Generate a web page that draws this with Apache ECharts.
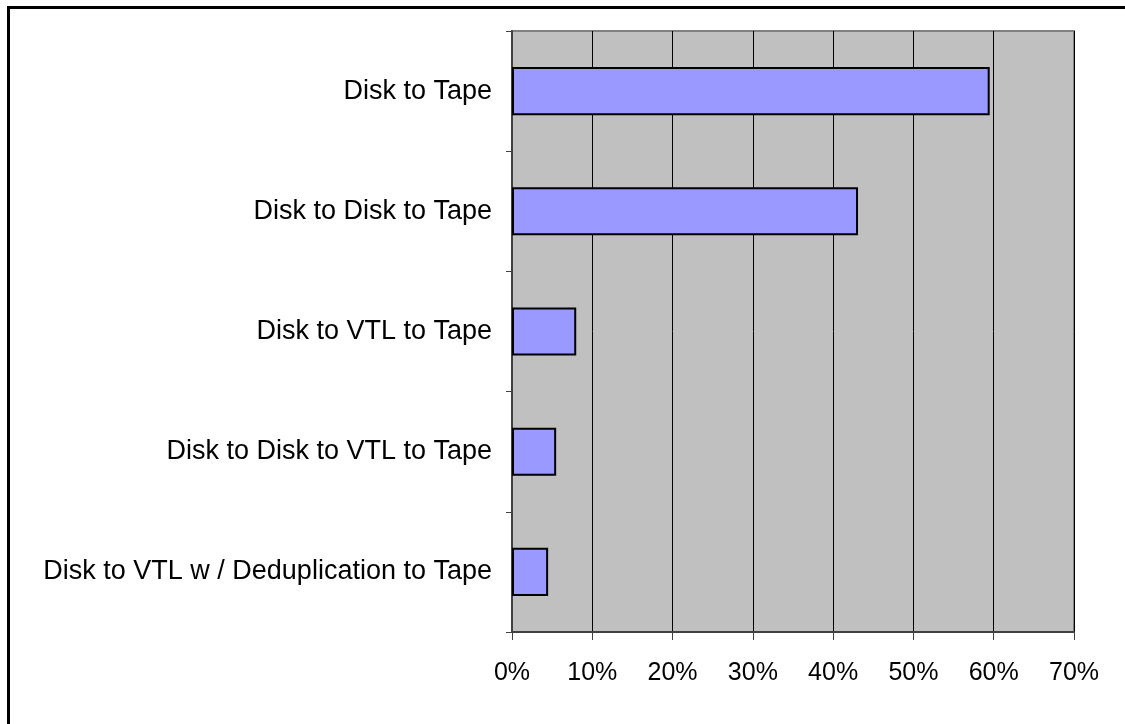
<!DOCTYPE html>
<html>
<head>
<meta charset="utf-8">
<script src="https://cdn.jsdelivr.net/npm/echarts@6/dist/echarts.min.js"></script>
<style>
  html, body { margin: 0; padding: 0; background: #fff; }
  #chart { width: 1125px; height: 724px; }
</style>
</head>
<body>
<div id="chart"></div>
<script>
// backup methods, top to bottom
var categories = ['Disk to Tape', 'Disk to Disk to Tape', 'Disk to VTL to Tape', 'Disk to Disk to VTL to Tape', 'Disk to VTL w / Deduplication to Tape'];
var shares = [0.595, 0.431, 0.080, 0.055, 0.045];
var xTicks = [0, 0.1, 0.2, 0.3, 0.4, 0.5, 0.6, 0.7];

var chart = echarts.init(document.getElementById('chart'));

var option = {
    animation: false,
    textStyle: { fontFamily: 'Liberation Sans, Arial, sans-serif' },
    // outer frame, cut off at right and bottom like the original
    graphic: [{
        type: 'rect',
        left: 6, top: 5,
        shape: { width: 1200, height: 800 },
        style: { fill: 'none', stroke: '#000', lineWidth: 3 },
        silent: true
    }],
    grid: {
        left: 512, top: 31, right: 51, bottom: 92,
        show: true,
        backgroundColor: '#C0C0C0',
        borderColor: '#808080',
        borderWidth: 2
    },
    xAxis: {
        type: 'value',
        min: xTicks[0], max: xTicks[xTicks.length - 1], interval: 0.1,
        axisLine: { show: true, lineStyle: { color: '#404040', width: 2 } },
        axisTick: { show: true, length: 8, lineStyle: { color: '#404040', width: 1 } },
        axisLabel: {
            fontSize: 25, color: '#000', margin: 29,
            formatter: function (v) { return Math.round(v * 100) + '%'; }
        },
        splitLine: { show: true, lineStyle: { color: '#000', width: 1 } }
    },
    yAxis: {
        type: 'category',
        inverse: true,
        data: categories,
        axisLine: { show: true, lineStyle: { color: '#404040', width: 2 } },
        axisTick: { show: true, length: 6, lineStyle: { color: '#404040', width: 1 } },
        axisLabel: { fontSize: 27, color: '#000', margin: 20 }
    },
    series: [{
        type: 'bar',
        data: shares,
        barCategoryGap: '60%',
        itemStyle: { color: '#9999FF', borderColor: '#000', borderWidth: 2 }
    }]
};
chart.setOption(option);
</script>
</body>
</html>
